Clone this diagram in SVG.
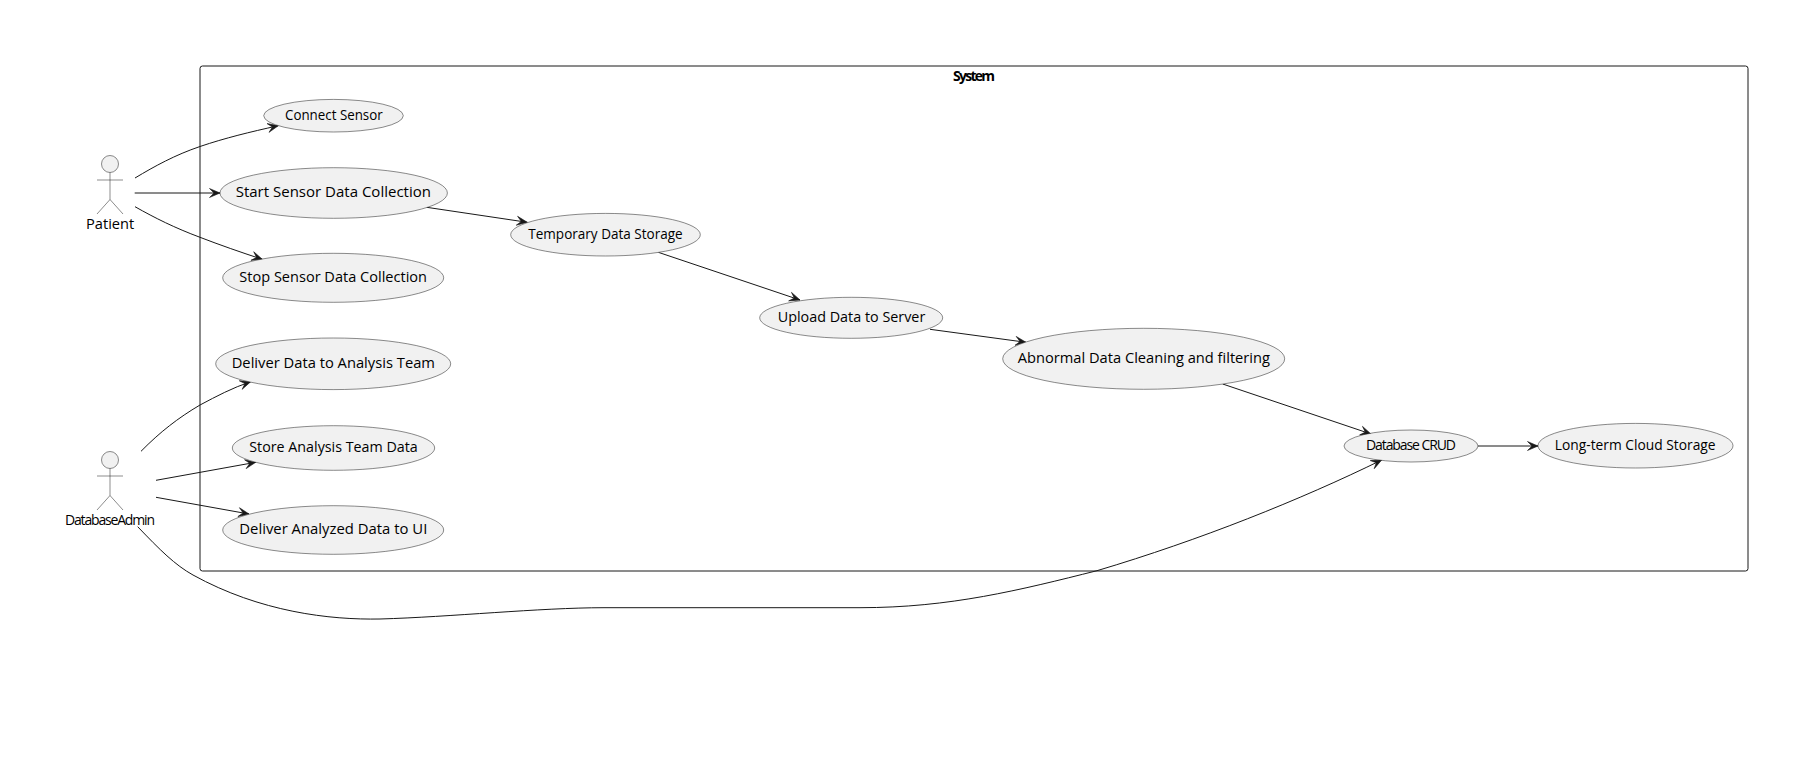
<svg xmlns="http://www.w3.org/2000/svg" width="1814" height="760" viewBox="0 0 1814 760">
<style>
text{font-family:"Open Sans","Noto Sans","Liberation Sans",sans-serif;font-size:14px;fill:#000}
.b{font-weight:700}
.u{fill:#F1F1F1;stroke:#181818;stroke-width:.5}
.a{fill:none;stroke:#181818;stroke-width:.5}
.c{fill:none;stroke:#181818;stroke-width:1;marker-end:url(#h)}
</style>
<defs>
<marker id="h" markerUnits="userSpaceOnUse" markerWidth="14" markerHeight="12" refX="11.500" refY="6" orient="auto" viewBox="0 0 14 12">
<path d="M11.500,6 L1,1.500 L5.500,6 L1,10.500 Z" fill="#181818" stroke="#181818" stroke-width=".6"/>
</marker>
</defs>
<rect width="1814" height="760" fill="#fff"/>
<g id="system">
<rect x="200" y="66" width="1548" height="505" rx="2.5" fill="none" stroke="#181818" stroke-width="1"/>
<text class="b" x="953" y="81" textLength="42" lengthAdjust="spacing">System</text>
</g>
<g id="connectors">
<path class="c" d="M135,178 C155,166 175,155 200,146.500 C225,138 250,132 278.300,125.700"/>
<path class="c" d="M134.700,193 L220,193"/>
<path class="c" d="M135,206.700 C155,218 175,228 200,237.300 C220,245 240,252 262.300,259.300"/>
<path class="c" d="M426.700,207.300 L527.300,222.300"/>
<path class="c" d="M658.300,252.300 L800,300"/>
<path class="c" d="M930,329.300 L1026,342.300"/>
<path class="c" d="M1222.700,384 L1371,434"/>
<path class="c" d="M1478,446 L1538,446"/>
<path class="c" d="M141,451.300 C160,432 178,418 200,405 C217,396 232,388 250.700,381.700"/>
<path class="c" d="M156,480.300 L255.700,462.300"/>
<path class="c" d="M156,497.300 L249,514"/>
<path class="c" d="M137.700,526.700 C160,550 175,565 193,575 C260,612 330,620 380,619 C450,617 540,607.700 604,607.700 L860,607.700 C950,607.700 1020,590 1097,570.700 C1200,540 1300,500 1381.700,460"/>
</g>
<g id="patient">
<circle class="u" cx="110" cy="164" r="8.500"/>
<path class="a" d="M110,172.500 V199.500 M97,180 H123 M110,199.500 L97,214 M110,199.500 L123,214"/>
<text x="86" y="229" textLength="48.300" lengthAdjust="spacingAndGlyphs">Patient</text>
</g>
<g id="databaseadmin">
<circle class="u" cx="110" cy="460" r="8.500"/>
<path class="a" d="M110,468.500 V495.500 M97,476 H123 M110,495.500 L97,510 M110,495.500 L123,510"/>
<text x="65" y="525" textLength="90" lengthAdjust="spacing">DatabaseAdmin</text>
</g>
<g id="connect-sensor">
<ellipse class="u" cx="333.500" cy="115.700" rx="69.800" ry="16.300"/>
<text x="285" y="120" textLength="97.700" lengthAdjust="spacingAndGlyphs">Connect Sensor</text>
</g>
<g id="start-collection">
<ellipse class="u" cx="333.700" cy="193" rx="113.700" ry="25.300"/>
<text x="235.700" y="197" textLength="195.300" lengthAdjust="spacingAndGlyphs">Start Sensor Data Collection</text>
</g>
<g id="stop-collection">
<ellipse class="u" cx="333.200" cy="277.800" rx="110.500" ry="24.500"/>
<text x="239.300" y="282.300" textLength="187.700" lengthAdjust="spacingAndGlyphs">Stop Sensor Data Collection</text>
</g>
<g id="deliver-data">
<ellipse class="u" cx="333.200" cy="363.800" rx="117.500" ry="25.800"/>
<text x="231.700" y="368" textLength="203.300" lengthAdjust="spacingAndGlyphs">Deliver Data to Analysis Team</text>
</g>
<g id="store-data">
<ellipse class="u" cx="333.500" cy="448" rx="101.200" ry="22.300"/>
<text x="249.300" y="452" textLength="168.400" lengthAdjust="spacingAndGlyphs">Store Analysis Team Data</text>
</g>
<g id="deliver-analyzed">
<ellipse class="u" cx="333.200" cy="530" rx="110.500" ry="24.300"/>
<text x="239.300" y="534" textLength="188" lengthAdjust="spacingAndGlyphs">Deliver Analyzed Data to UI</text>
</g>
<g id="temporary-storage">
<ellipse class="u" cx="605.500" cy="234.700" rx="94.800" ry="21.300"/>
<text x="528.300" y="239.300" textLength="154.400" lengthAdjust="spacingAndGlyphs">Temporary Data Storage</text>
</g>
<g id="upload">
<ellipse class="u" cx="851.200" cy="317.800" rx="91.500" ry="20.500"/>
<text x="777.700" y="322" textLength="147.600" lengthAdjust="spacingAndGlyphs">Upload Data to Server</text>
</g>
<g id="abnormal">
<ellipse class="u" cx="1143.700" cy="358.800" rx="141" ry="30.500"/>
<text x="1017.700" y="363" textLength="252.300" lengthAdjust="spacingAndGlyphs">Abnormal Data Cleaning and filtering</text>
</g>
<g id="database-crud">
<ellipse class="u" cx="1411" cy="446" rx="67" ry="16"/>
<text x="1366" y="450" textLength="90" lengthAdjust="spacing">Database CRUD</text>
</g>
<g id="cloud-storage">
<ellipse class="u" cx="1635.500" cy="445.700" rx="97.500" ry="22.300"/>
<text x="1554.800" y="450" textLength="160.800" lengthAdjust="spacingAndGlyphs">Long-term Cloud Storage</text>
</g>
</svg>
